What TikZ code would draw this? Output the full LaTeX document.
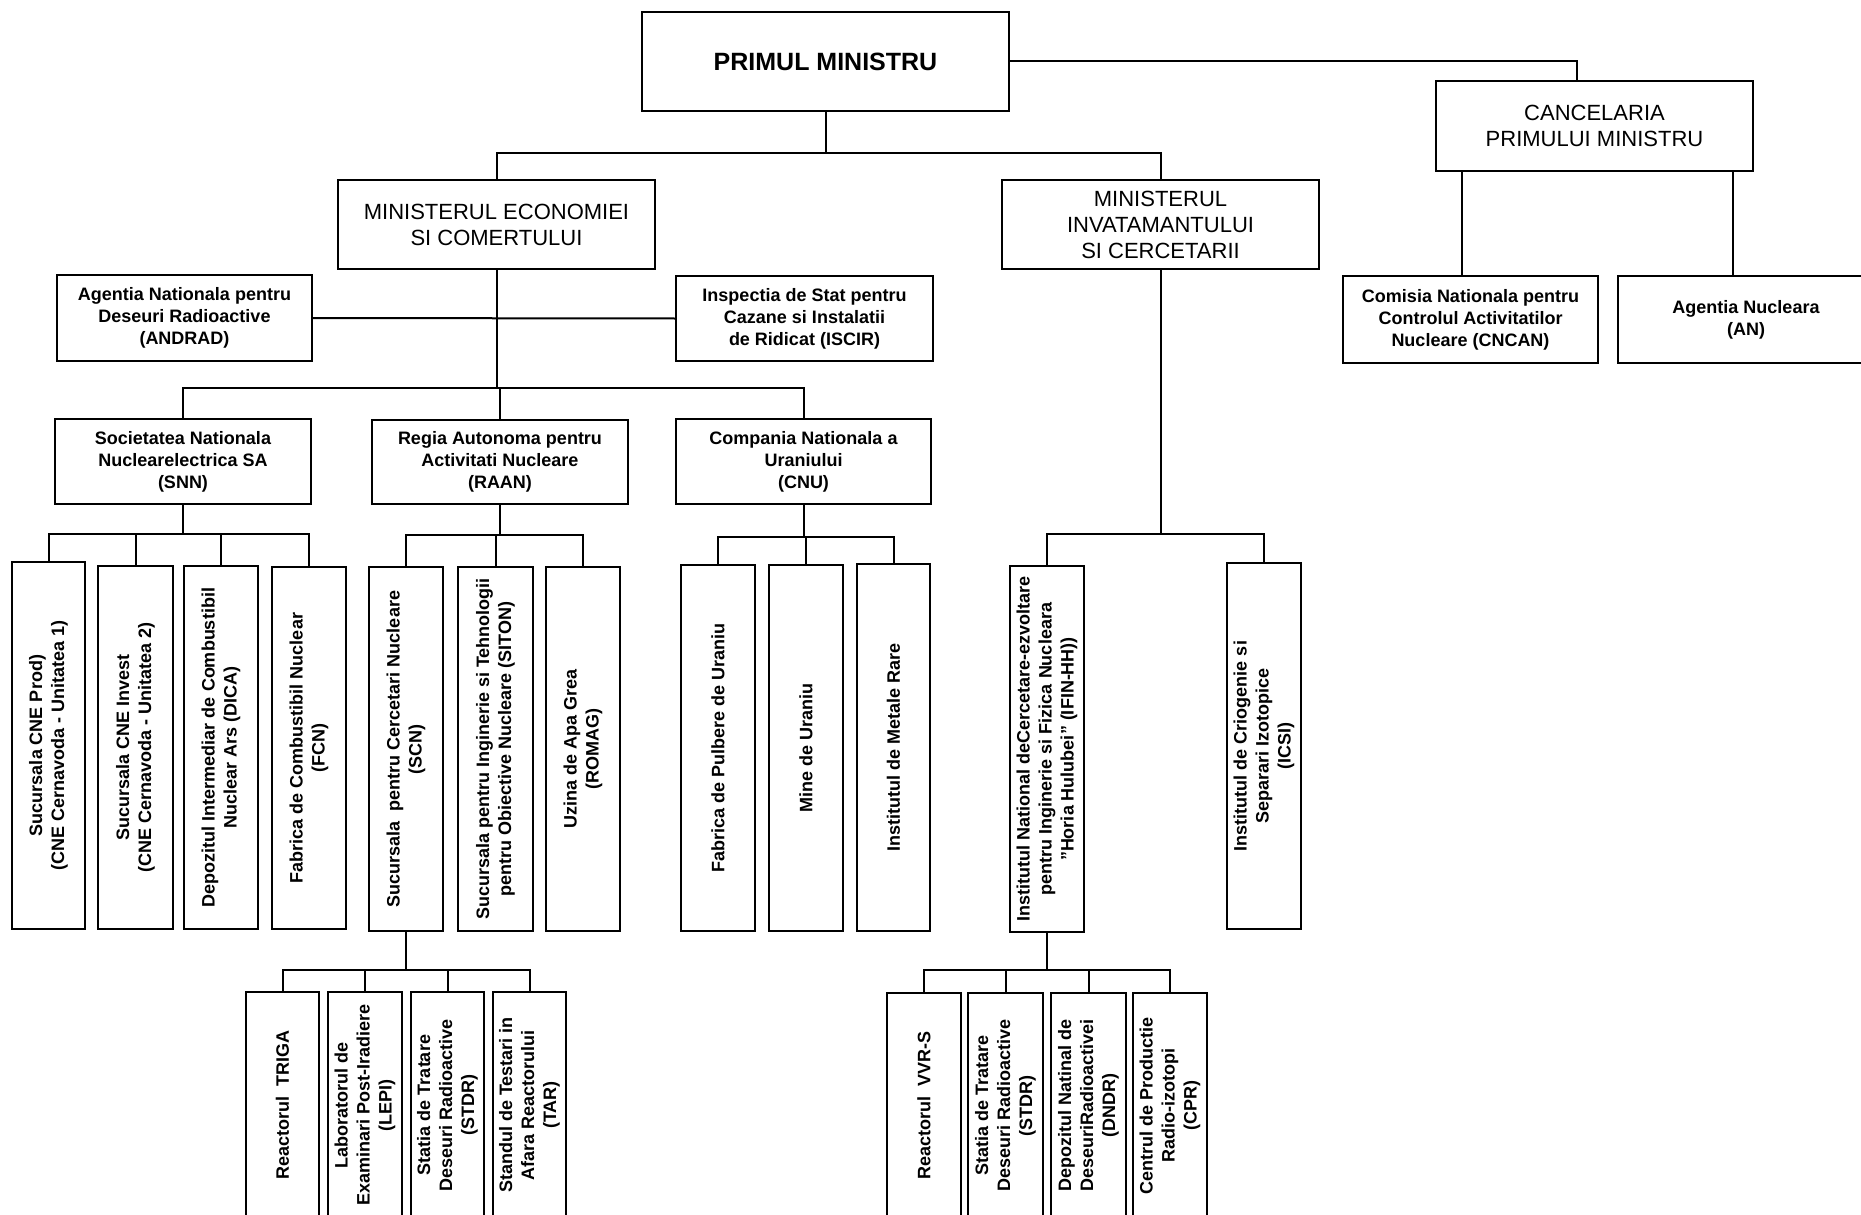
\documentclass[tikz,border=0pt]{standalone}
\usepackage{fontspec}
\setmainfont{Liberation Sans}
\begin{document}
\begin{tikzpicture}[x=1pt,y=-1pt,
  box/.style={draw, line width=2.2pt, inner sep=0pt, outer sep=0pt, align=center},
  bigtxt/.style={font=\fontsize{22}{26}\selectfont},
  pmtxt/.style={font=\fontsize{25}{29}\selectfont\bfseries},
  smtxt/.style={font=\fontsize{18}{22}\selectfont\bfseries},
  rot/.style={rotate=90, align=center, inner sep=0pt, font=\fontsize{18}{22}\selectfont\bfseries},
  conn/.style={line width=2pt}]
\useasboundingbox (0,0) rectangle (1861,1215);
\newcommand\hbx[7]{\node[box,#7, minimum width={(#4)-(#2)}, minimum height={(#5)-(#3)}] (#1) at ({((#2)+(#4))/2},{((#3)+(#5))/2}) {#6};}
\newcommand\vbx[6]{\node[box, minimum width={(#4)-(#2)}, minimum height={(#5)-(#3)}] (#1) at ({((#2)+(#4))/2},{((#3)+(#5))/2}) {};
  \node[rot] (#1t) at (#1.center) {#6};}
% top level
\hbx{pm}{642}{12}{1009}{111}{PRIMUL MINISTRU}{pmtxt}
\hbx{canc}{1436}{81}{1753}{171}{CANCELARIA\\PRIMULUI MINISTRU}{bigtxt}
\hbx{minec}{338}{180}{655}{269}{MINISTERUL ECONOMIEI\\SI COMERTULUI}{bigtxt}
\hbx{mininv}{1002}{180}{1319}{269}{MINISTERUL\\INVATAMANTULUI\\SI CERCETARII}{bigtxt}
% second level
\hbx{andrad}{57}{275}{312}{361}{Agentia Nationala pentru\\Deseuri Radioactive\\(ANDRAD)}{smtxt}
\hbx{iscir}{676}{276}{933}{361}{Inspectia de Stat pentru\\Cazane si Instalatii\\de Ridicat (ISCIR)}{smtxt}
\hbx{cncan}{1343}{276}{1598}{363}{Comisia Nationala pentru\\Controlul Activitatilor\\Nucleare (CNCAN)}{smtxt}
\hbx{an}{1618}{276}{1874}{363}{Agentia Nucleara\\(AN)}{smtxt}
\hbx{snn}{55}{419}{311}{504}{Societatea Nationala\\Nuclearelectrica SA\\(SNN)}{smtxt}
\hbx{raan}{372}{420}{628}{504}{Regia Autonoma pentru\\Activitati Nucleare\\(RAAN)}{smtxt}
\hbx{cnu}{676}{419}{931}{504}{Compania Nationala a\\Uraniului\\(CNU)}{smtxt}
% vertical boxes
\vbx{s1}{12}{562}{85}{929}{Sucursala CNE Prod)\\(CNE Cernavoda - Unitatea 1)}
\vbx{s2}{98}{566}{173}{929}{Sucursala CNE Invest\\(CNE Cernavoda - Unitatea 2)}
\vbx{s3}{184}{566}{258}{929}{Depozitul Intermediar de Combustibil\\Nuclear Ars (DICA)}
\vbx{s4}{272}{567}{346}{929}{Fabrica de Combustibil Nuclear\\(FCN)}
\vbx{r1}{369}{567}{443}{931}{Sucursala\ \ pentru Cercetari Nucleare\\(SCN)}
\vbx{r2}{458}{567}{533}{931}{Sucursala pentru Inginerie si Tehnologii\\pentru Obiective Nucleare (SITON)}
\vbx{r3}{546}{567}{620}{931}{Uzina de Apa Grea\\(ROMAG)}
\vbx{c1}{681}{565}{755}{931}{Fabrica de Pulbere de Uraniu}
\vbx{c2}{769}{565}{843}{931}{Mine de Uraniu}
\vbx{c3}{857}{564}{930}{931}{Institutul de Metale Rare}
\vbx{i1}{1010}{566}{1084}{932}{Institutul National deCercetare-ezvoltare\\pentru Inginerie si Fizica Nucleara\\"Horia Hulubei" (IFIN-HH))}
\vbx{i2}{1227}{563}{1301}{929}{Institutul de Criogenie si\\Separari Izotopice\\(ICSI)}
\vbx{t1}{246}{992}{319}{1218}{Reactorul\ \ TRIGA}
\vbx{t2}{328}{992}{402}{1218}{Laboratorul de\\Examinari Post-Iradiere\\(LEPI)}
\vbx{t3}{411}{992}{484}{1218}{Statia de Tratare\\Deseuri Radioactive\\(STDR)}
\vbx{t4}{493}{992}{566}{1218}{Standul de Testari in\\Afara Reactorului\\(TAR)}
\vbx{v1}{887}{993}{961}{1218}{Reactorul\ \ VVR-S}
\vbx{v2}{968}{993}{1043}{1218}{Statia de Tratare\\Deseuri Radioactive\\(STDR)}
\vbx{v3}{1051}{993}{1126}{1218}{Depozitul Natinal de\\DeseuriRadioactivei\\(DNDR)}
\vbx{v4}{1133}{993}{1207}{1218}{Centrul de Productie\\Radio-izotopi\\(CPR)}
% helper coordinates
\coordinate (b0) at (0,153);
\coordinate (b1) at (0,388);
\coordinate (b2) at (0,534);
\coordinate (b3) at (0,535);
\coordinate (b4) at (0,537);
\coordinate (b5) at (0,534);
\coordinate (b6) at (0,970);
\coordinate (b7) at (0,970);
\coordinate (cj) at (1577,0);
\coordinate (k1) at (1462,0);
\coordinate (k2) at (1733,0);
% connectors
\begin{scope}[conn]
\draw (pm.south) -- (pm.south |- b0);
\draw (minec.north) -- (minec.north |- b0) -- (mininv.north |- b0) -- (mininv.north);
\draw (pm.east) -| (cj |- canc.north);
\draw (canc.south -| k1) -- (cncan.north -| k1);
\draw (canc.south -| k2) -- (an.north -| k2);
\draw (andrad.east) -- (iscir.west);
\draw (minec.south) -- (minec.south |- b1);
\draw (snn.north) -- (snn.north |- b1) -- (cnu.north |- b1) -- (cnu.north);
\draw (raan.north) -- (raan.north |- b1);
% SNN
\draw (snn.south) -- (snn.south |- b2);
\draw (s1.north) -- (s1.north |- b2) -- (s4.north |- b2) -- (s4.north);
\draw (s2.north) -- (s2.north |- b2);
\draw (s3.north) -- (s3.north |- b2);
% RAAN
\draw (raan.south) -- (raan.south |- b3);
\draw (r1.north) -- (r1.north |- b3) -- (r3.north |- b3) -- (r3.north);
\draw (r2.north) -- (r2.north |- b3);
% CNU
\draw (cnu.south) -- (cnu.south |- b4);
\draw (c1.north) -- (c1.north |- b4) -- (c3.north |- b4) -- (c3.north);
\draw (c2.north) -- (c2.north |- b4);
% MININV
\draw (mininv.south) -- (mininv.south |- b5);
\draw (i1.north) -- (i1.north |- b5) -- (i2.north |- b5) -- (i2.north);
% SCN
\draw (r1.south) -- (r1.south |- b6);
\draw (t1.north) -- (t1.north |- b6) -- (t4.north |- b6) -- (t4.north);
\draw (t2.north) -- (t2.north |- b6);
\draw (t3.north) -- (t3.north |- b6);
% IFIN
\draw (i1.south) -- (i1.south |- b7);
\draw (v1.north) -- (v1.north |- b7) -- (v4.north |- b7) -- (v4.north);
\draw (v2.north) -- (v2.north |- b7);
\draw (v3.north) -- (v3.north |- b7);
\end{scope}
\end{tikzpicture}
\end{document}
